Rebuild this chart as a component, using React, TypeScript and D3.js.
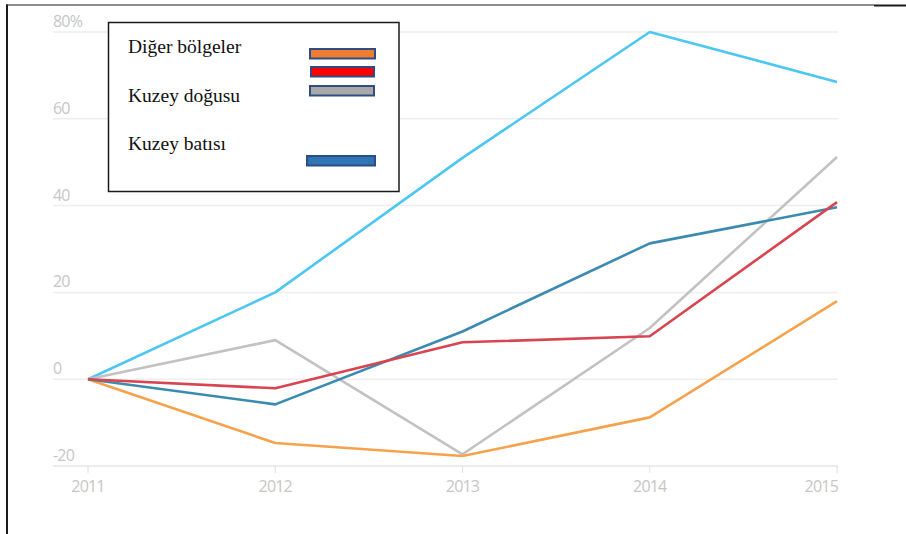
import React from "react";
import * as d3 from "d3";

const years = ["2011", "2012", "2013", "2014", "2015"];
const yTicks = [-20, 0, 20, 40, 60, 80];

const lightBlue = [0, 20, 51, 80, 68.5];
const gray = [0, 9, -17.3, 11.8, 51.2];
const red = [0, -2.1, 8.5, 9.9, 40.8];
const darkBlue = [0, -5.8, 11, 31.3, 39.6];
const orange = [0, -14.7, -17.7, -8.8, 18];

const seriesList = [
  { name: "lightBlue", values: lightBlue, color: "#4cc6f2" },
  { name: "gray", values: gray, color: "#c2c2c2" },
  { name: "orange", values: orange, color: "#f6a24c" },
  { name: "darkBlue", values: darkBlue, color: "#3b8ab2" },
  { name: "red", values: red, color: "#d8444f" },
];

const legendLabels = ["Diğer bölgeler", "Kuzey doğusu", "Kuzey batısı"];
const legendSwatches = ["#ed7d31", "#ff0000", "#a9a9a9", "#2e75b6"];

export default function App() {
  const x = d3.scalePoint<string>().domain(years).range([88, 837]);
  const y = d3.scaleLinear().domain([-20, 80]).range([466, 32]);
  const line = d3
    .line<number>()
    .x((_, i) => x(years[i]) as number)
    .y((d) => y(d));

  const labelFont = "'Open Sans', 'DejaVu Sans', sans-serif";

  const swatchY = [48, 66, 85, 155];
  const swatchX = [[309, 376], [310, 375], [309, 375], [306, 376]];

  return (
    <svg
      width={906}
      height={534}
      style={{ position: "absolute", left: 0, top: 0, background: "#fff" }}
    >
      {/* frame */}
      <line x1={6} y1={5} x2={874} y2={5} stroke="#1a1a1a" strokeWidth={1.2} />
      <line x1={874} y1={5.5} x2={906} y2={5.5} stroke="#1a1a1a" strokeWidth={2} />
      <line x1={7} y1={4.5} x2={7} y2={534} stroke="#1a1a1a" strokeWidth={2} />

      {/* gridlines */}
      {yTicks.map((t) => (
        <line
          key={t}
          x1={53}
          x2={838}
          y1={y(t)}
          y2={y(t)}
          stroke={t === -20 ? "#e6e6e6" : "#eeeeee"}
          strokeWidth={1.5}
        />
      ))}
      {/* x ticks */}
      {years.map((yr) => (
        <line
          key={yr}
          x1={x(yr)}
          x2={x(yr)}
          y1={y(-20)}
          y2={y(-20) + 7}
          stroke="#e0e0e0"
          strokeWidth={1}
        />
      ))}
      {/* y labels */}
      {yTicks.map((t) => (
        <text
          key={t}
          x={53}
          y={y(t) - 5}
          fill="#c6c6c6"
          fontSize={16}
          fontFamily={labelFont}
          letterSpacing={-0.8}
        >
          {t === 80 ? "80%" : String(t)}
        </text>
      ))}
      {/* x labels */}
      {years.map((yr, i) => (
        <text
          key={yr}
          x={i === years.length - 1 ? (x(yr) as number) + 1 : x(yr)}
          y={492}
          fill="#c6c6c6"
          fontSize={16}
          fontFamily={labelFont}
          letterSpacing={-0.8}
          textAnchor={i === years.length - 1 ? "end" : "middle"}
        >
          {yr}
        </text>
      ))}

      {/* lines */}
      {seriesList.map((s) => (
        <path
          key={s.name}
          d={line(s.values) || ""}
          fill="none"
          stroke={s.color}
          strokeWidth={2.6}
          strokeLinejoin="round"
        />
      ))}

      {/* legend */}
      <rect x={108.5} y={22.5} width={290.5} height={169} fill="#fff" stroke="#1a1a1a" strokeWidth={1.5} />
      {legendLabels.map((l, i) => (
        <text
          key={l}
          x={128}
          y={[53, 102, 150][i]}
          fontFamily="'Liberation Serif', 'Times New Roman', serif"
          fontSize={19.5}
          fill="#111"
        >
          {l}
        </text>
      ))}
      {legendSwatches.map((c, i) => (
        <rect
          key={i}
          x={swatchX[i][0] + 1}
          y={swatchY[i] + 1}
          width={swatchX[i][1] - swatchX[i][0] - 2}
          height={9.5}
          fill={c}
          stroke="#2f4d84"
          strokeWidth={2}
        />
      ))}
    </svg>
  );
}
